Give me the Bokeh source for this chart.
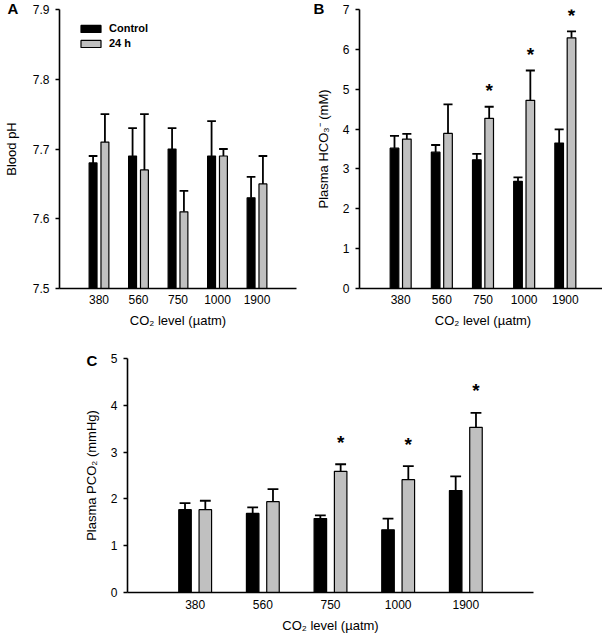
import numpy as np
from bokeh.plotting import figure
from bokeh.layouts import column, row
from bokeh.models import FixedTicker, Legend, LegendItem, Title
from bokeh.embed import file_html
from bokeh.resources import INLINE

co2_levels = ["380", "560", "750", "1000", "1900"]

ph_control = [7.68, 7.69, 7.70, 7.69, 7.63]
ph_control_err = [0.01, 0.04, 0.03, 0.05, 0.03]
ph_24h = [7.71, 7.67, 7.61, 7.69, 7.65]
ph_24h_err = [0.04, 0.08, 0.03, 0.01, 0.04]
ph_sig = [False, False, False, False, False]
ph_ticks = [7.5, 7.6, 7.7, 7.8, 7.9]

hco3_control = [3.52, 3.42, 3.23, 2.69, 3.65]
hco3_control_err = [0.31, 0.18, 0.15, 0.10, 0.34]
hco3_24h = [3.75, 3.89, 4.27, 4.72, 6.29]
hco3_24h_err = [0.13, 0.73, 0.29, 0.75, 0.16]
hco3_sig = [False, False, True, True, True]
hco3_ticks = [0, 1, 2, 3, 4, 5, 6, 7]

pco2_control = [1.77, 1.69, 1.58, 1.34, 2.18]
pco2_control_err = [0.14, 0.13, 0.07, 0.24, 0.30]
pco2_24h = [1.77, 1.94, 2.59, 2.41, 3.53]
pco2_24h_err = [0.19, 0.27, 0.15, 0.29, 0.31]
pco2_sig = [False, False, True, True, True]
pco2_ticks = [0, 1, 2, 3, 4, 5]

FONT = "Liberation Sans"
GRAY = "#c0c0c0"


def panel(letter, ctrl, ctrl_err, trt, trt_err, sig, ticks, ylabel,
          fw, fh, bl, br, bt, bb, bar_w, cap_w, ylab_standoff, star_off,
          letter_offset, letter_standoff, xlab_standoff, tick_standoff,
          tick_fmt=None, legend=False):
    y0, y1 = ticks[0], ticks[-1]
    p = figure(frame_width=fw, frame_height=fh, x_range=(0, 6), y_range=(y0, y1),
               output_backend="svg", toolbar_location=None,
               min_border_left=bl, min_border_right=br, min_border_top=bt,
               min_border_bottom=bb)
    p.outline_line_color = None
    p.xgrid.visible = False
    p.ygrid.visible = False
    p.background_fill_color = "white"
    p.border_fill_color = "white"

    xs = np.arange(1, len(co2_levels) + 1, dtype=float)
    xc = xs - 0.15
    xt = xs + 0.15
    ctrl = np.array(ctrl); ctrl_err = np.array(ctrl_err)
    trt = np.array(trt); trt_err = np.array(trt_err)

    # error bars (upper only)
    for xx, top, err in ((xc, ctrl, ctrl_err), (xt, trt, trt_err)):
        p.segment(x0=xx, y0=top, x1=xx, y1=top + err, line_color="black", line_width=1.8)
        p.segment(x0=xx - cap_w / 2, y0=top + err, x1=xx + cap_w / 2, y1=top + err,
                  line_color="black", line_width=1.8)

    r1 = p.vbar(x=xc, top=ctrl, bottom=y0, width=bar_w, fill_color="black",
                line_color="black", line_width=1.2)
    r2 = p.vbar(x=xt, top=trt, bottom=y0, width=bar_w, fill_color=GRAY,
                line_color="black", line_width=1.2)

    sig = np.array(sig, dtype=bool)
    if sig.any():
        p.text(x=xt[sig], y=(trt + trt_err)[sig], text=["*"] * int(sig.sum()),
               text_align="center", text_baseline="middle", y_offset=star_off,
               text_font_size="19px", text_font_style="bold", text_color="black")

    # x axis
    xa = p.xaxis[0]
    xa.ticker = FixedTicker(ticks=list(xs))
    xa.major_label_overrides = {float(x): c for x, c in zip(xs, co2_levels)}
    xa.major_label_overrides.update({int(x): c for x, c in zip(xs, co2_levels)})
    xa.major_tick_line_color = None
    xa.minor_tick_line_color = None
    xa.major_tick_out = 0
    xa.major_tick_in = 0
    xa.axis_line_width = 1.6
    xa.axis_line_color = "black"
    xa.major_label_standoff = tick_standoff
    xa.major_label_text_font = FONT
    xa.major_label_text_font_size = "12px"
    xa.major_label_text_color = "black"
    xa.axis_label = "CO₂ level (µatm)"
    xa.axis_label_text_font = FONT
    xa.axis_label_text_font_size = "13px"
    xa.axis_label_text_font_style = "normal"
    xa.axis_label_text_color = "black"
    xa.axis_label_standoff = xlab_standoff

    ya = p.yaxis[0]
    ya.ticker = FixedTicker(ticks=ticks)
    if tick_fmt is not None:
        ya.major_label_overrides = {t: tick_fmt.format(t) for t in ticks}
    ya.minor_tick_line_color = None
    ya.major_tick_out = 4
    ya.major_tick_in = 0
    ya.major_tick_line_width = 1.4
    ya.major_tick_line_color = "black"
    ya.axis_line_width = 1.6
    ya.axis_line_color = "black"
    ya.major_label_standoff = 6
    ya.major_label_text_font = FONT
    ya.major_label_text_font_size = "12px"
    ya.major_label_text_color = "black"
    ya.axis_label = ylabel
    ya.axis_label_text_font = FONT
    ya.axis_label_text_font_size = "13px"
    ya.axis_label_text_font_style = "normal"
    ya.axis_label_text_color = "black"
    ya.axis_label_standoff = ylab_standoff

    p.add_layout(Title(text=letter, align="left", offset=letter_offset,
                       standoff=letter_standoff, text_font=FONT,
                       text_font_size="15px", text_font_style="bold",
                       text_color="black"), "above")

    if legend:
        lg = Legend(items=[LegendItem(label="Control", renderers=[r1]),
                           LegendItem(label="24 h", renderers=[r2])],
                    location=(19, fh - 13 - 27), padding=0, margin=0, spacing=3,
                    glyph_width=25, glyph_height=9, label_height=12,
                    label_standoff=6, border_line_color=None,
                    background_fill_alpha=0, label_text_font=FONT,
                    label_text_font_size="11px", label_text_font_style="bold",
                    label_text_color="black", label_text_baseline="middle")
        p.add_layout(lg)
    return p


pa = panel("A", ph_control, ph_control_err, ph_24h, ph_24h_err, ph_sig, ph_ticks,
           "Blood pH", 237, 279, 53, 10, 9, 45, 0.2, 0.22, 11, -12,
           -52, -15, 6, 6, tick_fmt="{:.1f}", legend=True)
pb = panel("B", hco3_control, hco3_control_err, hco3_24h, hco3_24h_err, hco3_sig,
           hco3_ticks, "Plasma HCO₃⁻ (mM)", 247, 279, 53, 0, 9, 45, 0.21, 0.22, 9, -16,
           -46, -15, 6, 6)
pc = panel("C", pco2_control, pco2_control_err, pco2_24h, pco2_24h_err, pco2_sig,
           pco2_ticks, "Plasma PCO₂ (mmHg)", 406, 234, 127, 67, 25, 44, 0.185, 0.16, 9, -22,
           -41, -20, 6, 7)

layout = column(row(pa, pb), pc)
open("out.html", "w").write(file_html(layout, INLINE))
